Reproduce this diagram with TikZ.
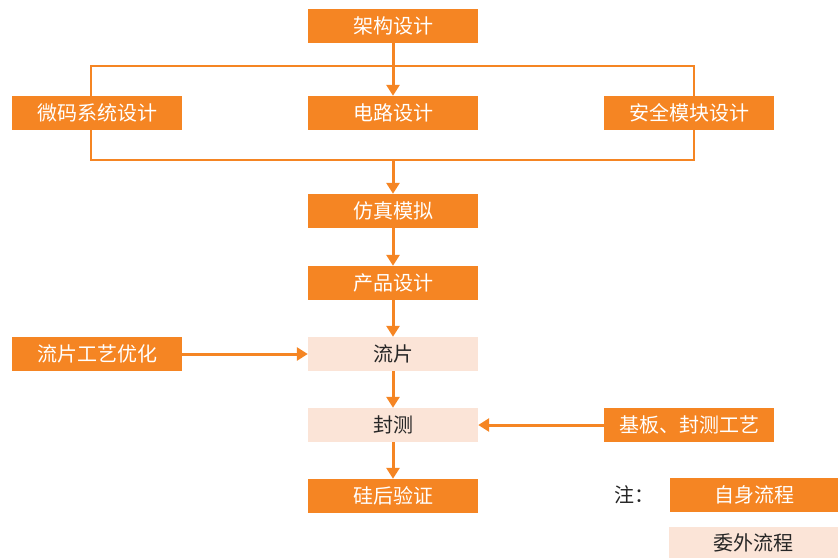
\documentclass[tikz,border=0pt]{standalone}
\usepackage{fontspec}
\setmainfont{Noto Sans CJK SC}
\usetikzlibrary{arrows.meta}
\definecolor{org}{HTML}{F58523}
\definecolor{lite}{HTML}{FBE4D7}
\begin{document}
\begin{tikzpicture}[x=1pt,y=-1pt,
  own/.style={fill=org,text=white,minimum width=170pt,minimum height=34pt,inner sep=0pt,font=\fontsize{20}{22}\selectfont},
  ext/.style={fill=lite,text=black!85,minimum width=170pt,minimum height=34pt,inner sep=0pt,font=\fontsize{20}{22}\selectfont},
  conn/.style={draw=org,line width=3pt,-{Triangle[width=13pt,length=11pt]}},
  frame/.style={draw=org,line width=2.8pt}]
\useasboundingbox (0,0) rectangle (838,558);
\draw[frame] (91,66) rectangle (694,160);
\coordinate (fb) at (393,160);
\node[own] (arch) at (393,26) {架构设计};
\node[own] (micro) at (97,113) {微码系统设计};
\node[own] (circ) at (393,113) {电路设计};
\node[own] (sec) at (689,113) {安全模块设计};
\node[own] (sim) at (393,211) {仿真模拟};
\node[own] (prod) at (393,283) {产品设计};
\node[ext] (tape) at (393,354) {流片};
\node[own] (opt) at (97,354) {流片工艺优化};
\node[ext] (pkg) at (393,425) {封测};
\node[own] (sub) at (689,425) {基板、封测工艺};
\node[own] (post) at (393,496) {硅后验证};
\node[font=\fontsize{20}{22}\selectfont,text=black!85] (note) at (634,495) {注：};
\node[own,minimum width=168pt] (l1) at (754,495) {自身流程};
\node[ext,minimum width=169pt,minimum height=31pt] (l2) at (753.5,542.5) {委外流程};
\draw[conn] (arch) -- (circ);
\draw[conn] (fb) -- (sim);
\draw[conn] (sim) -- (prod);
\draw[conn] (prod) -- (tape);
\draw[conn] (tape) -- (pkg);
\draw[conn] (pkg) -- (post);
\draw[conn] (opt) -- (tape);
\draw[conn] (sub) -- (pkg);
\end{tikzpicture}
\end{document}
